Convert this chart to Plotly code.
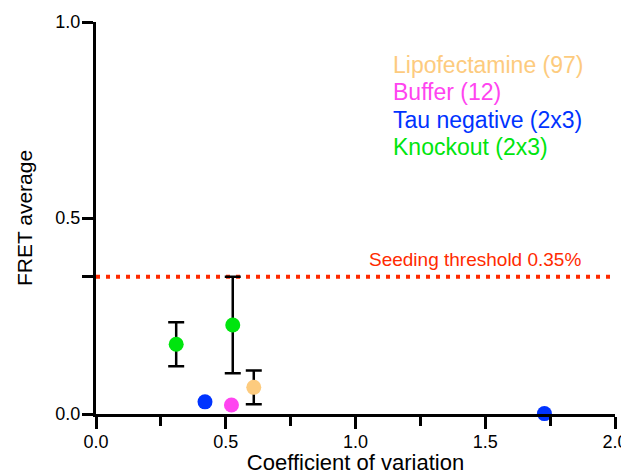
import plotly.graph_objects as go

# data
groups = ["Lipofectamine (97)", "Buffer (12)", "Tau negative (2x3)", "Knockout (2x3)"]
colors = ["#FDCB7E", "#FF44F0", "#0033FF", "#00E50E"]
lipo_x = [0.608]; lipo_y = [0.068]; lipo_err = [0.043]
buffer_x = [0.522]; buffer_y = [0.023]
tau_x = [0.42, 1.728]; tau_y = [0.031, 0.001]
ko_x = [0.309, 0.527]; ko_y = [0.178, 0.227]; ko_err = [0.056, 0.123]
threshold = 0.35
x_ticks = [0, 0.5, 1, 1.5, 2]
x_ticktext = ["0.0", "0.5", "1.0", "1.5", "2.0"]
x_minor = [0.25, 0.75, 1.25, 1.75]
y_ticks = [0, 0.35, 0.5, 1]
y_ticktext = ["0.0", "", "0.5", "1.0"]

FONT = "Arial, Liberation Sans, sans-serif"
OFF = 8  # default page body margin
W, H = 629 - OFF, 475 - OFF
L, R, T, B = 96 - OFF, 14, 22 - OFF, 61
pw, ph = W - L - R, H - T - B

def px_x(x):  # page pixel -> paper fraction
    return (x - OFF - L) / pw

def px_y(y):
    return 1 - (y - OFF - T) / ph

fig = go.Figure()

fig.add_trace(go.Scatter(x=[0, 2], y=[threshold, threshold], mode="lines",
                         line=dict(color="#FF2A00", width=4, dash="4px,6px"),
                         cliponaxis=False, hoverinfo="skip"))

def pts(x, y, c, err=None):
    kw = {}
    if err is not None:
        kw["error_y"] = dict(type="data", array=err, visible=True, color="black",
                             thickness=2.5, width=8)
    fig.add_trace(go.Scatter(x=x, y=y, mode="markers",
                             marker=dict(color=c, size=15, line=dict(width=0)),
                             cliponaxis=False, **kw))

pts(lipo_x, lipo_y, colors[0], lipo_err)
pts(buffer_x, buffer_y, colors[1])
pts(tau_x, tau_y, colors[2])
pts(ko_x, ko_y, colors[3], ko_err)

for i, (g, c) in enumerate(zip(groups, colors)):
    fig.add_annotation(x=px_x(391), y=px_y(65 + i * 27.4),
                       xref="paper", yref="paper", text=g,
                       showarrow=False, xanchor="left", yanchor="middle",
                       font=dict(family=FONT, size=23, color=c))

fig.add_annotation(x=px_x(581), y=threshold, xref="paper", yref="y",
                   text="Seeding threshold 0.35%",
                   showarrow=False, xanchor="right", yanchor="bottom", xshift=2, yshift=5,
                   font=dict(family=FONT, size=19, color="#FF2A00"))

fig.update_layout(
    width=W, height=H, margin=dict(l=L, r=R, t=T, b=B),
    plot_bgcolor="white", paper_bgcolor="white", showlegend=False,
    font=dict(family=FONT, color="black"),
    xaxis=dict(range=[0, 2], tickvals=x_ticks, ticktext=x_ticktext, automargin=False,
               showline=True, linecolor="black", linewidth=3, ticks="outside",
               ticklen=12, tickwidth=3, tickcolor="black", showgrid=False, zeroline=False,
               tickfont=dict(size=18, family=FONT), ticklabelstandoff=-3,
               minor=dict(tickvals=x_minor, ticks="outside", ticklen=9,
                          tickwidth=3, tickcolor="black", showgrid=False),
               title=dict(text="Coefficient of variation", font=dict(size=22, family=FONT), standoff=2)),
    yaxis=dict(range=[0, 1], tickvals=y_ticks, ticktext=y_ticktext, automargin=False,
               showline=True, linecolor="black", linewidth=3, ticks="outside",
               ticklen=11, tickwidth=3, tickcolor="black", showgrid=False, zeroline=False,
               tickfont=dict(size=18, family=FONT), ticklabelstandoff=-2,
               title=dict(text="FRET average", font=dict(size=21, family=FONT), standoff=18)),
)

fig.write_html("out.html")
